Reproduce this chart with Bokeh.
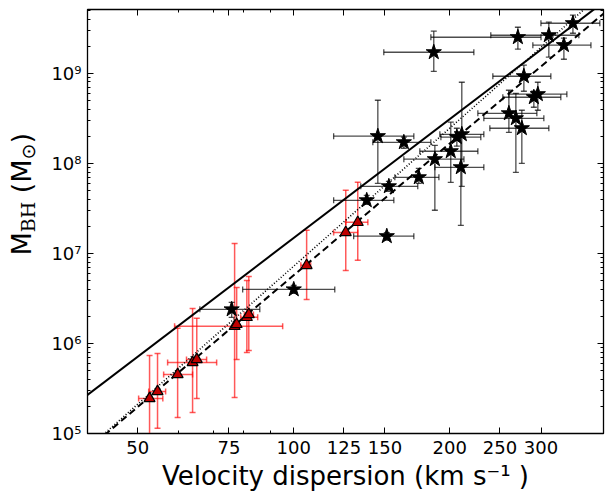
import numpy as np
from bokeh.plotting import figure
from bokeh.layouts import row
from bokeh.models import (ColumnDataSource, Whisker, TeeHead, FixedTicker, LogAxis,
                          Label, Range1d, CustomJSTickFormatter)
from bokeh.embed import file_html
from bokeh.resources import INLINE

# ---------------- data ----------------
x_tick_values = [50, 75, 100, 125, 150, 200, 250, 300]
x_tick_labels = ["50", "75", "100", "125", "150", "200", "250", "300"]
x_minor_ticks = [40, 50, 60, 70, 80, 90, 100, 200, 300, 400]
y_tick_values = [1e5, 1e6, 1e7, 1e8, 1e9]
y_tick_labels = ["10⁵", "10⁶", "10⁷", "10⁸", "10⁹"]
y_minor_ticks = [k * 10.0 ** e for e in range(4, 10) for k in range(1, 10)]

# black stars: sigma (km/s) with range, M_BH (Msun) with range
star_sigma    = [75.9, 100.0, 138.3, 151.2, 152.6, 174.3, 187.2, 200.9, 206.4, 211.0, 210.1, 145.3,
                 163.1, 186.3, 260.1, 268.3, 275.5, 278.0, 290.6, 295.8, 270.7, 310.6, 332.1, 345.7]
star_sigma_lo = [65.9, 79.7, 119.4, 130.5, 134.7, 156.7, 163.1, 175.1, 192.3, 191.4, 187.2, 119.4,
                 142.1, 149.2, 226.6, 232.7, 239.0, 242.2, 253.2, 260.1, 183.9, 240.0, 289.3, 299.9]
star_sigma_hi = [86.0, 120.0, 156.0, 170.5, 173.5, 190.6, 213.0, 226.6, 229.6, 232.7, 232.7, 170.5,
                 183.9, 222.6, 294.5, 303.8, 310.6, 313.4, 327.6, 336.5, 300.0, 354.9, 374.5, 389.6]
star_mbh      = [2.39e6, 3.98e6, 3.88e7, 1.55e7, 5.55e7, 6.99e7, 1.11e8, 1.36e8, 1.95e8, 2.10e8, 9.03e7, 2.0e8,
                 1.71e8, 1.71e9, 3.59e8, 3.16e8, 2.45e8, 9.26e8, 5.41e8, 5.85e8, 2.51e9, 2.64e9, 2.05e9, 3.59e9]
star_mbh_lo   = [1.95e6, 3.6e6, 3.50e7, 1.40e7, 4.89e7, 5.99e7, 3.01e7, 6.15e7, 1.55e8, 5.55e7, 2.05e7, 5.99e7,
                 1.47e8, 1.05e9, 2.21e8, 7.94e7, 1.0e8, 6.31e8, 4.19e8, 3.88e8, 1.85e9, 1.51e9, 1.43e9, 2.78e9]
star_mbh_hi   = [2.86e6, 4.4e6, 4.41e7, 1.70e7, 6.31e7, 8.8e7, 1.58e8, 2.86e8, 2.45e8, 7.94e8, 2.05e8, 5.01e8,
                 1.95e8, 2.93e9, 6.47e8, 5.99e8, 3.88e8, 1.23e9, 6.31e8, 7.94e8, 3.24e9, 3.69e9, 2.45e9, 4.41e9]

# red triangles
tri_sigma    = [52.7, 54.6, 59.7, 63.8, 65.0, 76.9, 77.6, 81.2, 81.9, 105.9, 126.0, 132.9]
tri_sigma_lo = [50.2, 52.5, 56.1, 57.1, 62.1, 58.9, 77.0, 79.0, 80.3, 103.2, 119.4, 126.0]
tri_sigma_hi = [55.9, 56.6, 63.8, 71.0, 67.9, 95.2, 78.2, 85.2, 83.6, 107.8, 132.9, 139.0]
tri_mbh      = [2.45e5, 2.93e5, 4.52e5, 6.15e5, 6.64e5, 1.55e6, 1.63e6, 1.95e6, 2.10e6, 7.36e6, 1.71e7, 2.21e7]
tri_mbh_lo   = [8.0e4, 1.14e5, 1.51e5, 1.71e5, 2.45e5, 2.51e5, 6.64e5, 7.94e5, 8.36e5, 3.08e6, 6.47e6, 8.36e6]
tri_mbh_hi   = [7.36e5, 7.74e5, 1.47e6, 2.45e6, 1.90e6, 1.29e7, 4.19e6, 5.01e6, 5.55e6, 1.80e7, 5.01e7, 6.15e7]

# M-sigma relations: log M = a + b log(sigma/200)
rel_intercept = [8.49, 8.39, 8.22]
rel_slope     = [4.38, 5.09, 4.86]
rel_dash      = ["solid", "1 2", "7 4"]
rel_width     = [2.0, 1.6, 2.0]

# ---------------- main figure ----------------
LAB_W = 40
p = figure(x_axis_type="log", y_axis_type="log",
           x_range=Range1d(40, 396), y_range=Range1d(1e5, 5.1e9),
           frame_width=516, frame_height=424,
           min_border_left=87 - LAB_W, min_border_right=2, min_border_top=9, min_border_bottom=58,
           output_backend="svg", toolbar_location=None)
p.grid.visible = False
p.outline_line_color = "black"
p.outline_line_width = 1.3
p.background_fill_color = "white"
p.border_fill_color = "white"

sig_line = np.array([40.0, 400.0])
for a, b, d, w in zip(rel_intercept, rel_slope, rel_dash, rel_width):
    m_line = 10 ** (a + b * np.log10(sig_line / 200.0))
    p.line(sig_line, m_line, line_color="black", line_width=w, line_dash=d)

star_src = ColumnDataSource(dict(x=star_sigma, xlo=star_sigma_lo, xhi=star_sigma_hi,
                                 y=star_mbh, ylo=star_mbh_lo, yhi=star_mbh_hi))
tri_src = ColumnDataSource(dict(x=tri_sigma, xlo=tri_sigma_lo, xhi=tri_sigma_hi,
                                y=tri_mbh, ylo=tri_mbh_lo, yhi=tri_mbh_hi))


def add_err(src, color, alpha, width):
    for dim, base, lo, hi in (("height", "x", "ylo", "yhi"), ("width", "y", "xlo", "xhi")):
        wk = Whisker(source=src, base=base, lower=lo, upper=hi, dimension=dim,
                     line_color=color, line_alpha=alpha, line_width=width,
                     upper_head=TeeHead(size=6, line_color=color, line_alpha=alpha, line_width=width),
                     lower_head=TeeHead(size=6, line_color=color, line_alpha=alpha, line_width=width))
        p.add_layout(wk)


add_err(tri_src, "red", 0.65, 1.5)
add_err(star_src, "black", 0.7, 1.3)

p.scatter("x", "y", source=tri_src, marker="triangle", size=11,
          fill_color="#c00000", line_color="black", line_width=1.2)
p.scatter("x", "y", source=star_src, marker="star", size=16,
          fill_color="black", line_color="black")

# ---------------- axes ----------------
xt = FixedTicker(ticks=x_tick_values, minor_ticks=x_minor_ticks)
yt = FixedTicker(ticks=y_tick_values, minor_ticks=y_minor_ticks)

for ax in (p.xaxis[0], p.yaxis[0]):
    ax.major_tick_in = 6
    ax.major_tick_out = 0
    ax.minor_tick_in = 3
    ax.minor_tick_out = 0
    ax.axis_line_color = "black"
    ax.major_label_text_font = "DejaVu Sans"
    ax.major_label_text_font_size = "18px"
    ax.major_label_text_color = "black"
    ax.axis_label_text_font = "DejaVu Sans"
    ax.axis_label_text_font_size = "26px"
    ax.axis_label_text_font_style = "normal"
    ax.axis_label_text_color = "black"

p.xaxis[0].ticker = xt
p.xaxis[0].major_label_overrides = {v: l for v, l in zip(x_tick_values, x_tick_labels)}
p.xaxis[0].major_label_standoff = 7
p.xaxis[0].axis_label = "Velocity dispersion (km s⁻¹ )"
p.xaxis[0].axis_label_standoff = 4

p.yaxis[0].ticker = yt
p.yaxis[0].major_label_overrides = {v: l for v, l in zip(y_tick_values, y_tick_labels)}
p.yaxis[0].major_label_standoff = 6

for loc, tk in (("above", xt), ("right", yt)):
    ax = LogAxis(ticker=tk, major_tick_in=6, major_tick_out=0, minor_tick_in=3, minor_tick_out=0,
                 formatter=CustomJSTickFormatter(code="return ''"),
                 major_label_text_font_size="10px", major_label_standoff=0, axis_line_color="black")
    p.add_layout(ax, loc)

# ---------------- y-axis title strip: "M_BH (M_sun)" ----------------
lab = figure(width=LAB_W, height=491, x_range=Range1d(0, LAB_W), y_range=Range1d(0, 491),
             min_border=0, output_backend="svg", toolbar_location=None)
lab.axis.visible = False
lab.grid.visible = False
lab.outline_line_color = None
lab.background_fill_color = "white"
lab.border_fill_color = "white"

ylab_x = 21
ylab_y0 = 176
pieces = [("M", "DejaVu Sans", 27, 0, 23.3),
          ("BH", "DejaVu Serif", 19, 6, 39.0),
          ("(M", "DejaVu Sans", 27, 0, 33.8),
          ("⊙", "DejaVu Sans", 19, 6, 15.8),
          (")", "DejaVu Sans", 27, 0, 10.5)]
yy = ylab_y0
for txt, fnt, fs, drop, adv in pieces:
    lab.add_layout(Label(x=ylab_x + drop, y=yy, x_units="screen", y_units="screen", text=txt,
                         angle=90, angle_units="deg", text_font=fnt, text_font_size=f"{fs}px",
                         text_baseline="middle", text_align="left", text_color="black"))
    yy += adv

layout = row(lab, p)
open("out.html", "w").write(file_html(layout, INLINE))
